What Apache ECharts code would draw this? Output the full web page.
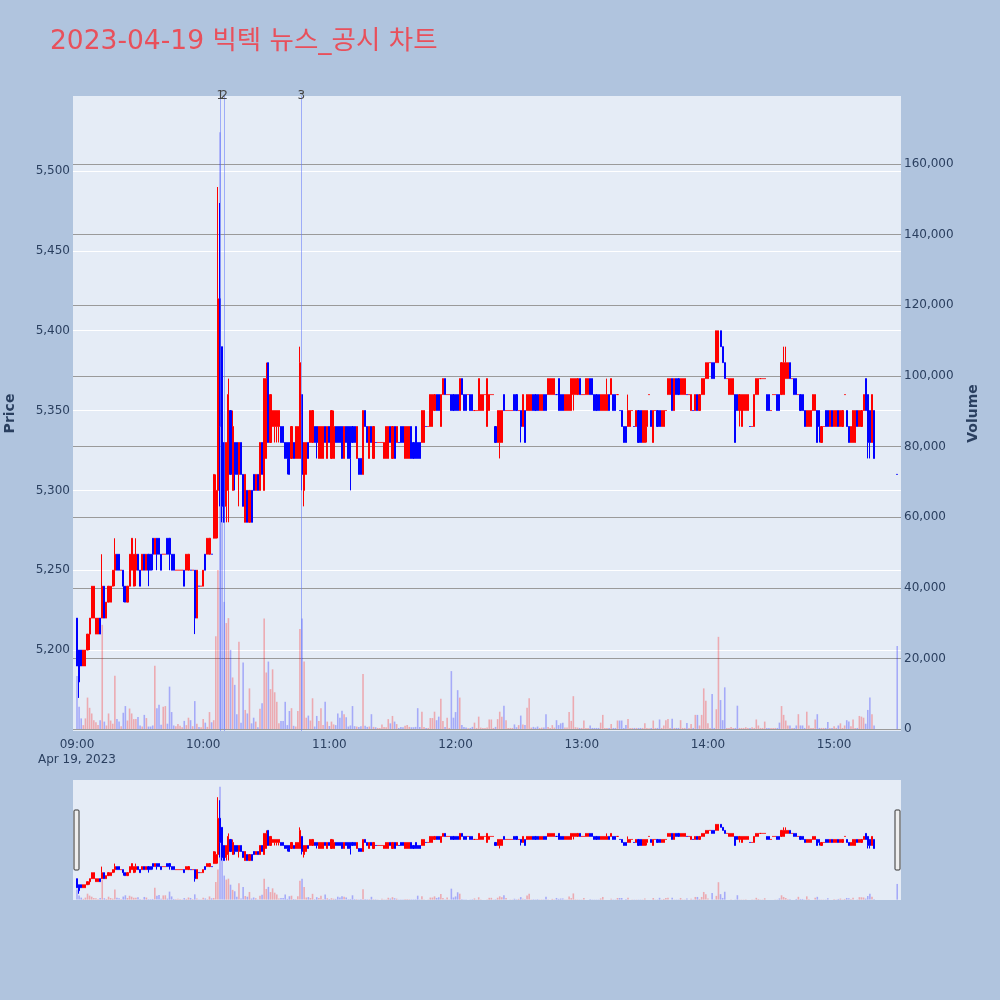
<!DOCTYPE html>
<html><head><meta charset="utf-8">
<script src="https://cdn.jsdelivr.net/npm/echarts@6/dist/echarts.min.js"></script>
<style>html,body{margin:0;padding:0;background:#B0C4DE;}#c{width:1000px;height:1000px;}</style>
</head><body><div id="c"></div>
<script>
// minute offsets from 09:00 (index 0..379 = 09:00..15:19, last entry = 15:30 closing auction)
const opens = [
5220,5200,5200,5190,5190,5200,5210,5220,5220,5210, 5210,5220,5220,5240,5220,5230,5230,5240,5250,5260,
5260,5250,5250,5240,5230,5240,5250,5240,5250,5260, 5250,5250,5260,5250,5260,5260,5270,5260,5270,5270,
5260,5260,5260,5270,5270,5260,5260,5250,5250,5250, 5250,5250,5250,5250,5250,5250,5250,5220,5240,5240,
5240,5260,5260,5260,5260,5270,5270,5300,5420,5390, 5330,5290,5300,5350,5300,5330,5330,5310,5330,5310,
5280,5300,5280,5300,5310,5300,5310,5300,5330,5300, 5320,5380,5330,5340,5340,5340,5340,5340,5340,5330,
5330,5330,5320,5330,5320,5320,5320,5360,5300,5310, 5330,5330,5330,5340,5340,5320,5320,5320,5340,5320,
5340,5320,5320,5340,5340,5340,5340,5320,5340,5340, 5340,5340,5340,5320,5320,5320,5310,5350,5340,5320,
5340,5320,5330,5330,5330,5330,5320,5320,5320,5340, 5320,5340,5330,5330,5340,5340,5320,5320,5320,5340,
5330,5340,5330,5330,5330,5330,5340,5340,5340,5340, 5350,5360,5360,5340,5360,5370,5360,5360,5360,5360,
5360,5360,5350,5370,5360,5360,5360,5360,5360,5350, 5350,5350,5350,5350,5360,5340,5350,5360,5360,5340,
5330,5330,5330,5360,5350,5350,5350,5350,5360,5360, 5350,5350,5340,5350,5350,5350,5350,5360,5360,5360,
5350,5350,5360,5360,5360,5360,5360,5360,5360,5370, 5360,5360,5350,5350,5350,5350,5360,5360,5360,5370,
5360,5360,5360,5360,5370,5370,5360,5360,5360,5350, 5350,5350,5350,5360,5360,5360,5360,5360,5350,5350,
5340,5340,5340,5340,5350,5340,5340,5350,5350,5330, 5330,5340,5360,5350,5330,5350,5350,5350,5340,5340,
5350,5360,5360,5370,5350,5370,5370,5360,5360,5360, 5360,5360,5350,5350,5350,5360,5350,5360,5360,5370,
5370,5380,5380,5380,5380,5380,5400,5390,5380,5370, 5360,5360,5360,5360,5360,5350,5340,5350,5350,5350,
5340,5340,5340,5360,5360,5370,5370,5370,5360,5360, 5350,5360,5360,5360,5360,5360,5360,5370,5370,5380,
5370,5370,5370,5360,5360,5360,5350,5340,5340,5340, 5350,5350,5350,5350,5330,5340,5350,5350,5340,5350,
5340,5340,5350,5340,5340,5360,5350,5340,5330,5330, 5330,5350,5340,5340,5350,5370,5360,5350,5330,5350,
5310];
const closes = [
5190,5180,5190,5200,5200,5210,5220,5240,5240,5220, 5220,5210,5240,5220,5230,5240,5240,5250,5260,5250,
5250,5250,5240,5230,5240,5260,5270,5260,5260,5250, 5240,5260,5250,5260,5250,5250,5260,5270,5260,5260,
5250,5260,5260,5260,5260,5250,5250,5250,5250,5250, 5250,5240,5260,5260,5250,5250,5220,5250,5240,5240,
5250,5250,5270,5270,5260,5310,5300,5420,5340,5290, 5280,5330,5360,5310,5340,5310,5310,5330,5310,5290,
5310,5280,5300,5280,5300,5310,5300,5330,5310,5370, 5370,5330,5360,5350,5350,5350,5350,5330,5330,5320,
5320,5310,5340,5320,5340,5340,5380,5310,5330,5330, 5320,5350,5350,5330,5330,5340,5340,5340,5330,5340,
5330,5350,5340,5330,5330,5330,5320,5340,5330,5320, 5320,5330,5330,5340,5310,5310,5350,5340,5330,5340,
5330,5340,5330,5330,5330,5330,5330,5340,5340,5330, 5340,5320,5340,5330,5330,5330,5340,5340,5340,5320,
5320,5320,5320,5320,5350,5350,5340,5340,5360,5360, 5360,5350,5350,5360,5370,5360,5360,5360,5350,5350,
5350,5350,5370,5360,5350,5350,5360,5350,5350,5350, 5350,5370,5360,5360,5360,5370,5360,5360,5360,5330,
5350,5350,5350,5350,5350,5350,5350,5350,5350,5350, 5350,5340,5360,5330,5360,5360,5360,5350,5350,5350,
5360,5360,5350,5350,5370,5370,5370,5370,5360,5350, 5350,5350,5360,5360,5360,5370,5370,5370,5370,5360,
5360,5360,5370,5370,5360,5360,5350,5350,5350,5360, 5360,5360,5360,5350,5370,5350,5350,5360,5350,5340,
5330,5330,5350,5350,5350,5340,5350,5330,5330,5350, 5350,5350,5360,5340,5350,5350,5340,5340,5350,5350,
5350,5370,5370,5350,5370,5360,5360,5370,5370,5370, 5360,5360,5360,5350,5360,5350,5360,5370,5370,5380,
5380,5380,5370,5370,5400,5400,5390,5380,5370,5370, 5370,5370,5370,5330,5350,5360,5360,5360,5360,5360,
5340,5340,5360,5370,5370,5370,5370,5370,5350,5350, 5350,5360,5360,5350,5350,5380,5380,5380,5380,5370,
5370,5360,5360,5360,5350,5350,5340,5350,5350,5350, 5360,5360,5330,5340,5340,5340,5340,5340,5350,5340,
5350,5350,5340,5350,5350,5360,5340,5330,5340,5350, 5350,5340,5350,5350,5360,5350,5330,5330,5360,5320,
5310];
const lows = [
5190,5170,5190,5190,5190,5200,5200,5220,5220,5210, 5210,5210,5220,5220,5220,5230,5230,5240,5240,5250,
5250,5250,5230,5230,5230,5240,5250,5240,5240,5250, 5240,5250,5250,5250,5240,5250,5250,5260,5250,5260,
5250,5260,5260,5260,5250,5250,5250,5250,5250,5250, 5250,5240,5250,5250,5250,5250,5210,5220,5240,5240,
5240,5250,5260,5260,5260,5270,5270,5270,5290,5280, 5280,5280,5280,5310,5300,5300,5310,5290,5310,5290,
5280,5280,5280,5280,5300,5300,5300,5300,5310,5300, 5320,5330,5330,5340,5330,5330,5330,5330,5330,5320,
5310,5310,5320,5320,5320,5320,5320,5300,5290,5310, 5320,5330,5330,5330,5320,5320,5320,5320,5330,5320,
5330,5320,5320,5330,5330,5330,5320,5320,5330,5320, 5300,5330,5330,5320,5310,5310,5310,5340,5330,5320,
5330,5320,5330,5330,5330,5330,5320,5320,5320,5330, 5320,5320,5330,5330,5330,5330,5320,5320,5320,5320,
5320,5320,5320,5320,5330,5330,5340,5340,5340,5340, 5350,5350,5350,5340,5360,5360,5360,5360,5350,5350,
5350,5350,5350,5360,5350,5350,5360,5350,5350,5350, 5350,5350,5350,5350,5360,5340,5350,5360,5360,5330,
5330,5320,5330,5350,5350,5350,5350,5350,5350,5350, 5350,5330,5340,5330,5350,5350,5350,5350,5350,5350,
5350,5350,5350,5350,5360,5360,5360,5360,5360,5350, 5350,5350,5350,5350,5350,5350,5350,5360,5360,5360,
5360,5360,5360,5360,5360,5360,5350,5350,5350,5350, 5350,5350,5350,5350,5360,5350,5350,5360,5350,5340,
5330,5330,5340,5340,5350,5340,5340,5330,5330,5330, 5330,5330,5360,5340,5330,5350,5340,5340,5340,5340,
5350,5360,5360,5350,5350,5360,5360,5360,5360,5360, 5360,5360,5350,5350,5350,5350,5350,5360,5360,5370,
5370,5380,5370,5370,5380,5380,5390,5380,5370,5370, 5360,5360,5360,5330,5350,5340,5340,5350,5350,5350,
5340,5340,5340,5360,5360,5370,5370,5370,5350,5350, 5350,5360,5360,5350,5350,5360,5360,5370,5370,5370,
5370,5360,5360,5360,5350,5350,5340,5340,5340,5340, 5350,5350,5330,5330,5330,5340,5340,5340,5340,5340,
5340,5340,5340,5340,5340,5360,5340,5330,5330,5330, 5330,5340,5340,5340,5350,5350,5320,5320,5330,5320,
5310];
const highs = [
5220,5200,5200,5200,5200,5210,5220,5240,5240,5220, 5220,5220,5260,5240,5230,5240,5240,5250,5270,5260,
5260,5250,5250,5240,5240,5260,5270,5260,5270,5260, 5250,5260,5260,5260,5260,5260,5270,5270,5270,5270,
5260,5260,5260,5270,5270,5260,5260,5250,5250,5250, 5250,5250,5260,5260,5250,5250,5250,5250,5240,5240,
5250,5260,5270,5270,5260,5310,5310,5490,5480,5390, 5330,5330,5370,5350,5350,5330,5330,5330,5330,5310,
5310,5300,5300,5300,5310,5310,5310,5330,5330,5370, 5380,5380,5360,5350,5350,5350,5350,5340,5340,5330,
5330,5330,5340,5330,5340,5340,5390,5360,5330,5330, 5330,5350,5350,5340,5340,5340,5340,5340,5340,5340,
5340,5350,5350,5340,5340,5340,5340,5340,5340,5340, 5340,5340,5340,5340,5320,5320,5350,5350,5340,5340,
5340,5340,5330,5330,5330,5330,5330,5340,5340,5340, 5340,5340,5340,5330,5340,5340,5340,5340,5340,5340,
5330,5340,5330,5330,5350,5350,5340,5340,5360,5360, 5360,5360,5360,5360,5370,5370,5360,5360,5360,5360,
5360,5360,5370,5370,5360,5360,5360,5360,5360,5350, 5350,5370,5360,5360,5360,5370,5360,5360,5360,5340,
5350,5350,5350,5360,5350,5350,5350,5350,5360,5360, 5350,5350,5360,5350,5360,5360,5360,5360,5360,5360,
5360,5360,5360,5360,5370,5370,5370,5370,5360,5370, 5360,5360,5360,5360,5360,5370,5370,5370,5370,5370,
5360,5360,5370,5370,5370,5370,5360,5360,5360,5360, 5360,5360,5370,5360,5370,5360,5360,5360,5350,5350,
5340,5340,5360,5350,5350,5340,5350,5350,5350,5350, 5350,5350,5360,5350,5350,5350,5350,5350,5350,5350,
5350,5370,5370,5370,5370,5370,5370,5370,5370,5370, 5360,5360,5360,5350,5360,5360,5360,5370,5370,5380,
5380,5380,5380,5380,5400,5400,5400,5390,5380,5370, 5370,5370,5370,5360,5360,5360,5360,5360,5360,5360,
5340,5340,5360,5370,5370,5370,5370,5370,5360,5360, 5350,5360,5360,5360,5360,5380,5390,5390,5380,5380,
5370,5370,5370,5360,5360,5360,5350,5350,5350,5350, 5360,5360,5350,5350,5340,5340,5350,5350,5350,5350,
5350,5350,5350,5350,5350,5360,5350,5340,5340,5350, 5350,5350,5350,5350,5360,5370,5360,5350,5360,5350,
5310];
const volumes = [
15000,6300,3000,1100,3000,8900,6000,4400,2500,1900, 1100,2500,29500,2100,1000,4400,2400,1500,15100,2800,
2100,800,4600,6500,2400,5800,4400,2800,2800,3400, 1000,700,4000,3100,700,700,1000,17900,5900,6900,
1200,6300,6500,1500,12000,4800,1000,800,1400,900, 500,2300,1100,3200,2500,800,7900,1500,600,500,
2800,1800,600,4800,1900,2500,26300,45000,169000,80000, 36000,30000,31400,22400,14600,12500,4200,24700,1800,18800,
5400,4400,11500,1600,3200,2100,500,5700,7300,31300, 16000,19100,11300,16900,10400,7700,1600,2300,2300,7700,
1100,5100,5900,900,700,5100,28300,31300,19100,3200, 3800,2400,8700,700,3700,2300,5900,1100,7700,2100,
850,2100,1300,1100,4400,3200,5200,4200,3300,700, 1000,6500,800,700,600,800,15600,900,600,700,
4200,600,500,300,300,1300,600,500,2800,1600, 3700,2100,1400,300,600,500,900,1100,600,500,
500,600,5900,600,4900,600,300,300,3100,3100, 4900,2500,3500,8600,2300,600,3200,300,16400,3200,
4800,11000,8900,1100,600,400,200,300,600,1800, 300,3500,400,300,300,400,2700,2700,300,600,
2800,4900,3500,6600,2500,300,300,300,1300,500, 1100,3800,1300,1100,6000,8700,400,600,400,700,
300,400,400,4200,600,300,1100,400,2500,1100, 1600,1800,400,400,4800,2300,9300,500,400,300,
300,2400,300,300,1000,300,300,300,300,1800, 4000,300,300,300,1400,300,300,2400,2400,2400,
300,1100,2800,300,300,300,300,300,300,300, 1600,300,200,300,2400,300,300,2700,300,1000,
2500,2800,300,2900,300,300,300,2500,300,300, 1700,300,1400,300,4000,4000,1000,4000,11500,8000,
1600,300,9900,300,5600,26100,8200,2500,11800,300, 300,600,300,300,6600,300,300,300,500,300,
300,500,300,2700,1000,300,300,2100,300,300, 300,300,300,300,1800,6500,4000,2400,1000,1000,
300,300,1000,4200,1000,1000,300,4900,1000,300, 300,2700,4200,300,300,300,300,2000,300,300,
800,300,1000,1600,300,1000,2500,2100,800,2700, 300,300,3700,3500,3200,1500,5400,8900,4200,1000,
23500];
const closingAuctionMinute = 390;
const timeTicks = [0, 60, 120, 180, 240, 300, 360];
const timeTickLabels = ['09:00\nApr 19, 2023', '10:00', '11:00', '12:00', '13:00', '14:00', '15:00'];
const priceTicks = [5200, 5250, 5300, 5350, 5400, 5450, 5500];
const volumeTicks = [0, 20000, 40000, 60000, 80000, 100000, 120000, 140000, 160000];
const newsMinutes = [68.2, 69.9, 106.7];
const newsLabels = ['1', '2', '3'];

const minuteOf = i => (i < opens.length - 1 ? i : closingAuctionMinute);
function isUp(i) {
  if (closes[i] > opens[i]) return true;
  if (closes[i] < opens[i]) return false;
  return i === 0 ? true : closes[i - 1] <= closes[i];
}
const candleData = opens.map((o, i) => [minuteOf(i), o, closes[i], lows[i], highs[i]]);
const volData = volumes.map((v, i) => ({
  value: [minuteOf(i), v],
  itemStyle: { color: isUp(i) ? 'rgba(255,0,0,0.28)' : 'rgba(0,0,255,0.28)' }
}));

const XMIN = -1.9, XMAX = 391.8;
const PMIN = 5149.3, PMAX = 5547;
const VMIN = -566, VMAX = 179257;
const FONT = 'DejaVu Sans';
const fmtNum = v => String(Math.round(v)).replace(/\B(?=(\d{3})+(?!\d))/g, ',');
const labelColor = '#2a3f5f';
const candleStyle = { color: '#FF0000', color0: '#0000FF', borderColor: '#FF0000', borderColor0: '#0000FF', borderWidth: 1 };

const chart = echarts.init(document.getElementById('c'), null, { renderer: 'canvas' });
chart.setOption({
  backgroundColor: '#B0C4DE',
  animation: false,
  title: {
    text: '2023-04-19 빅텍 뉴스_공시 차트', left: 45, top: 24,
    textStyle: { fontFamily: 'DejaVu Sans, Noto Sans CJK KR', fontSize: 26.5, fontWeight: 'normal', color: '#E8505B' }
  },
  grid: [
    { left: 73, top: 96, width: 828, height: 635, show: true, backgroundColor: '#E5ECF6', borderWidth: 0, containLabel: false, outerBoundsMode: 'none' },
    { left: 73, top: 780, width: 828, height: 120, show: true, backgroundColor: '#E5ECF6', borderWidth: 0, containLabel: false, outerBoundsMode: 'none' }
  ],
  xAxis: [
    {
      type: 'value', gridIndex: 0, min: XMIN, max: XMAX,
      axisLine: { show: false }, axisTick: { show: false, customValues: timeTicks },
      splitLine: { show: false },
      axisLabel: {
        customValues: timeTicks, color: labelColor, fontSize: 12, fontFamily: FONT, margin: 6, lineHeight: 15,
        formatter: v => timeTickLabels[timeTicks.indexOf(Math.round(v))] || ''
      }
    },
    { type: 'value', gridIndex: 1, min: XMIN, max: XMAX, show: false, splitLine: { show: false } }
  ],
  yAxis: [
    {
      type: 'value', gridIndex: 0, position: 'left', min: PMIN, max: PMAX,
      axisLine: { show: false }, axisTick: { show: false, customValues: priceTicks },
      splitLine: { show: true, lineStyle: { color: '#ffffff', width: 1 } },
      axisLabel: { customValues: priceTicks, formatter: fmtNum, color: labelColor, fontSize: 12, fontFamily: FONT, margin: 3 },
      name: 'Price', nameLocation: 'middle', nameRotate: 90, nameGap: 56, nameMoveOverlap: false,
      nameTextStyle: { color: labelColor, fontSize: 14, fontWeight: 'bold', fontFamily: FONT }
    },
    {
      type: 'value', gridIndex: 0, position: 'right', min: VMIN, max: VMAX,
      axisLine: { show: false }, axisTick: { show: false, customValues: volumeTicks },
      splitLine: { show: true, lineStyle: { color: '#9a9a9a', width: 1 } },
      axisLabel: { customValues: volumeTicks, formatter: fmtNum, color: labelColor, fontSize: 12, fontFamily: FONT, margin: 3 },
      name: 'Volume', nameLocation: 'middle', nameRotate: 90, nameGap: 65, nameMoveOverlap: false,
      nameTextStyle: { color: labelColor, fontSize: 14, fontWeight: 'bold', fontFamily: FONT }
    },
    { type: 'value', gridIndex: 1, min: PMIN, max: PMAX, show: false, splitLine: { show: false } },
    { type: 'value', gridIndex: 1, min: VMIN, max: VMAX, show: false, splitLine: { show: false } }
  ],
  series: [
    { type: 'bar', xAxisIndex: 0, yAxisIndex: 1, data: volData, barWidth: 1.6, z: 2 },
    {
      type: 'candlestick', xAxisIndex: 0, yAxisIndex: 0, z: 3,
      dimensions: ['t', 'open', 'close', 'low', 'high'],
      encode: { x: 't', y: ['open', 'close', 'low', 'high'] },
      data: candleData, barWidth: 1.6, itemStyle: candleStyle,
      markLine: {
        silent: true, symbol: ['none', 'none'], animation: false,
        lineStyle: { color: 'rgba(99,120,250,0.55)', width: 1, type: 'solid' },
        label: { show: true, position: 'end', distance: -6, formatter: p => p.name, color: '#444', fontSize: 12, fontFamily: FONT },
        data: newsMinutes.map((m, i) => ({ name: newsLabels[i], xAxis: m }))
      }
    },
    { type: 'bar', xAxisIndex: 1, yAxisIndex: 3, data: volData, barWidth: 1.6, z: 2 },
    {
      type: 'candlestick', xAxisIndex: 1, yAxisIndex: 2, z: 3,
      dimensions: ['t', 'open', 'close', 'low', 'high'],
      encode: { x: 't', y: ['open', 'close', 'low', 'high'] },
      data: candleData, barWidth: 1.6, itemStyle: candleStyle
    }
  ],
  graphic: [
    { type: 'rect', shape: { x: 74, y: 810, width: 5, height: 60, r: 1 }, style: { fill: '#eeeeee', stroke: '#333', lineWidth: 1 }, z: 100 },
    { type: 'rect', shape: { x: 895, y: 810, width: 5, height: 60, r: 1 }, style: { fill: '#eeeeee', stroke: '#333', lineWidth: 1 }, z: 100 }
  ]
});
</script>
</body></html>
